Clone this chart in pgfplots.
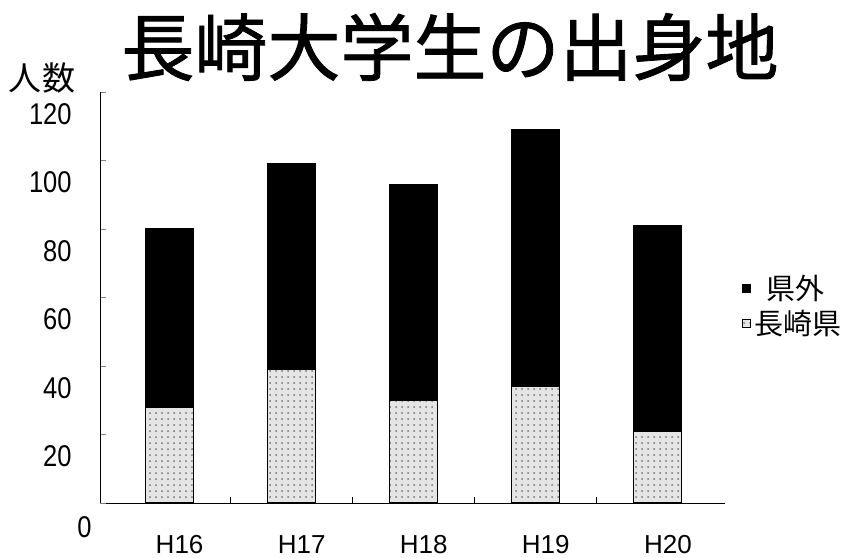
\documentclass[border=0pt]{standalone}
\usepackage{pgfplots}
\pgfplotsset{compat=1.18}
\usetikzlibrary{patterns}
\usepackage{fontspec}
\setmainfont{Liberation Sans}
\newfontfamily\jp{Noto Sans CJK JP}
\newfontfamily\jptitle[FakeBold=1.2]{Noto Sans CJK JP}
\newfontfamily\narrow[FakeStretch=0.85]{Liberation Sans}

\pgfplotstableread{
x  kennai kengai
0  28     52
1  39     60
2  30     63
3  34     75
4  21     60
}\shusshin

\begin{document}
\begin{tikzpicture}
\useasboundingbox (0pt,0pt) rectangle (427pt,278.5pt);
\begin{axis}[
    at={(50pt,27pt)}, anchor=south west,
    scale only axis,
    width=312.5pt, height=205.5pt,
    ybar stacked,
    bar width=24pt,
    xmin=-0.57, xmax=4.55,
    ymin=0, ymax=120,
    axis x line=bottom, axis y line=left,
    axis line style={-, line width=0.5pt},
    xtick=data,
    xticklabels={H16,H17,H18,H19,H20},
    xtick style={draw=none},
    extra x ticks={0.5,1.5,2.5,3.5},
    extra x tick labels={},
    extra x tick style={xtick style={draw=black, line width=0.4pt}, major tick length=3pt, tick align=inside},
    xticklabel style={font=\fontsize{13}{13}\selectfont, anchor=north, inner sep=0pt, yshift=-16pt, xshift=5pt},
    ytick={20,40,60,80,100,120},
    extra y ticks={0},
    extra y tick style={yticklabel style={xshift=10pt, yshift=-1pt}},
    yticklabel style={font=\narrow\fontsize{15}{15}\selectfont, anchor=east, inner sep=0pt, xshift=-14pt, yshift=-11pt},
    tick align=inside,
    major tick length=3pt,
    ytick style={line width=0.4pt},
    /pgf/number format/assume math mode=true,
    reverse legend,
    legend style={at={(1.026,0.479)}, anchor=west, draw=none, fill=none,
        font=\jp\fontsize{14.5}{14.5}\selectfont, row sep=0pt, inner sep=0pt},
    legend cell align=left,
    legend image code/.code={\draw[#1, line width=0.4pt] (0pt,-2pt) rectangle (4pt,2pt);},
]
\addplot[draw=black, line width=0.6pt, fill=black!10,
    postaction={pattern=dots, pattern color=black!55}]
    table[x=x, y=kennai] {\shusshin};
\addplot[draw=black, line width=0.6pt, fill=black]
    table[x=x, y=kengai] {\shusshin};
\legend{長崎県, \hspace{6pt}県外}
\end{axis}
\node[font=\jptitle\fontsize{36.5}{36.5}\selectfont, inner sep=0pt] at (225pt,255pt) {長崎大学生の出身地};
\node[font=\jp\fontsize{16.5}{16.5}\selectfont, inner sep=0pt] at (21pt,239.5pt) {人数};
\end{tikzpicture}
\end{document}
